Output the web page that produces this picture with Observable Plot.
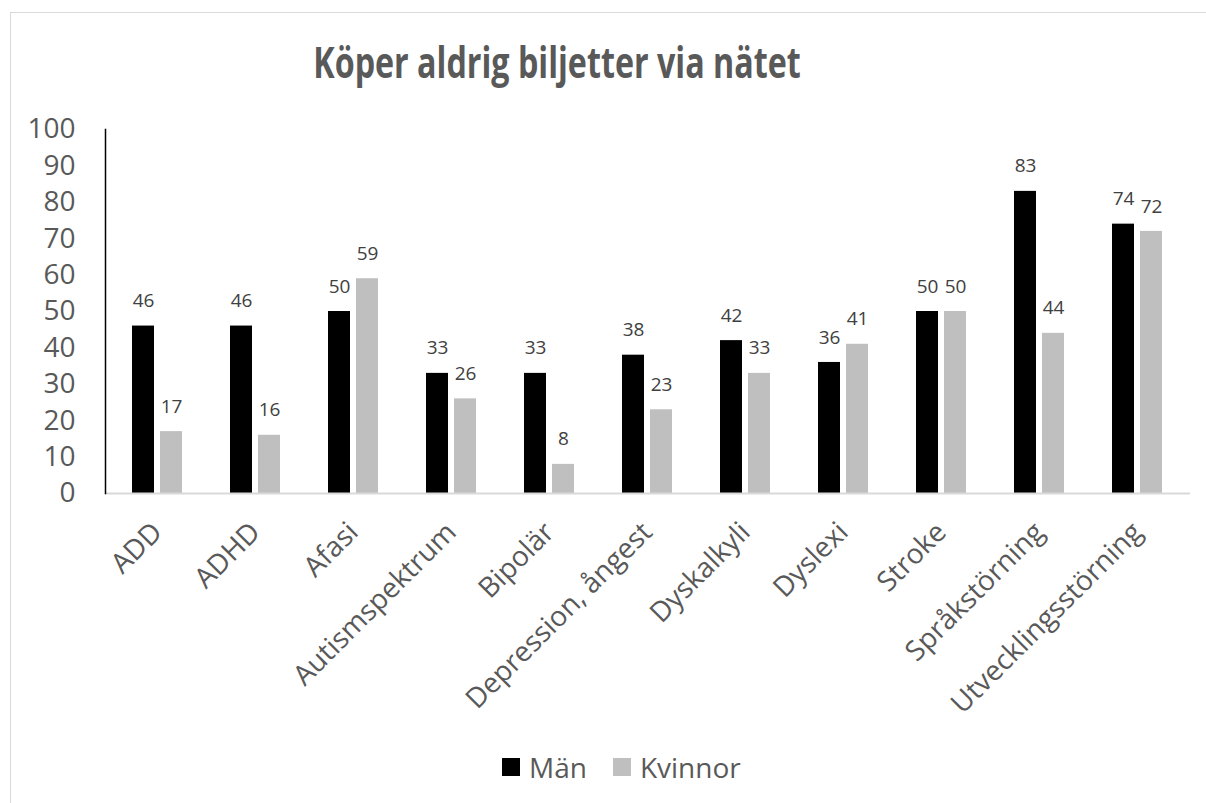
<!DOCTYPE html>
<html>
<head>
<meta charset="utf-8">
<script src="https://cdn.jsdelivr.net/npm/d3@7"></script>
<script src="https://cdn.jsdelivr.net/npm/@observablehq/plot@0.6"></script>
<style>
  html, body { margin: 0; padding: 0; background: #fff; overflow: hidden; }
  body { width: 1206px; height: 803px; position: relative; font-family: "Open Sans", sans-serif; }
  #frame { position: absolute; left: 10px; top: 12px; width: 1196px; height: 0;
           border-top: 1px solid #d9d9d9; }
  #frameLeft { position: absolute; left: 10px; top: 12px; width: 0; height: 791px;
           border-left: 1px solid #d9d9d9; }
  #title { position: absolute; left: 0; top: 37px; width: 1115px; text-align: center;
           font-family: "Open Sans", sans-serif; font-weight: 700; font-size: 43px; color: #595959;
           line-height: 50px; white-space: nowrap; }
  #title span { display: inline-block; transform: scaleX(0.75); transform-origin: center; }
  #chart { position: absolute; left: 0; top: 100px; }
  #legend { position: absolute; left: 502px; top: 748px; display: flex;
            align-items: center; font-size: 28px; color: #595959; line-height: 38px; white-space: nowrap; }
  .item { display: flex; align-items: center; }
  .item + .item { margin-left: 26px; }
  .sw { width: 18px; height: 18px; margin-right: 9px; }
</style>
</head>
<body>
<div id="frame"></div>
<div id="frameLeft"></div>
<div id="title"><span>Köper aldrig biljetter via nätet</span></div>
<div id="chart"></div>
<div id="legend"></div>
<script>
const categories = ["ADD", "ADHD", "Afasi", "Autismspektrum", "Bipolär", "Depression, ångest", "Dyskalkyli", "Dyslexi", "Stroke", "Språkstörning", "Utvecklingsstörning"];
const series = ["Män", "Kvinnor"];
const manValues = [46, 46, 50, 33, 33, 38, 42, 36, 50, 83, 74];
const kvinnorValues = [17, 16, 59, 26, 8, 23, 33, 41, 50, 44, 72];
const seriesColors = ["#000000", "#bfbfbf"];
const yTicks = [0, 10, 20, 30, 40, 50, 60, 70, 80, 90, 100];

const data = categories.flatMap((c, i) => [
  {cat: c, series: "Män", value: manValues[i]},
  {cat: c, series: "Kvinnor", value: kvinnorValues[i]}
]);
const men = data.filter(d => d.series === "Män");
const women = data.filter(d => d.series === "Kvinnor");

const chart = Plot.plot({
  width: 1206,
  height: 620,
  marginLeft: 105,
  marginRight: 16,
  marginTop: 29,
  marginBottom: 227,
  style: {fontFamily: "Open Sans, sans-serif", fontSize: "28px", background: "transparent", overflow: "visible"},
  x: {domain: categories, paddingInner: 0.773, paddingOuter: 0.3865},
  y: {domain: [0, 100]},
  color: {domain: series, range: seriesColors},
  marks: [
    Plot.barY(men, {x: "cat", y: "value", fill: "series", dx: -14}),
    Plot.barY(women, {x: "cat", y: "value", fill: "series", dx: 14}),
    Plot.ruleY([0], {stroke: "#d9d9d9", strokeWidth: 2}),
    Plot.frame({anchor: "left", stroke: "#000", strokeWidth: 1.5}),
    Plot.text(men, {x: "cat", y: "value", text: d => String(d.value), dx: -14, dy: -25, fill: "#404040", fontSize: 19}),
    Plot.text(women, {x: "cat", y: "value", text: d => String(d.value), dx: 14, dy: -25, fill: "#404040", fontSize: 19}),
    Plot.axisY({ticks: yTicks, tickSize: 0, tickPadding: 30, fontSize: 28, color: "#595959", label: null}),
    Plot.axisX({tickSize: 0, tickPadding: 34, tickRotate: -45, fontSize: 28, color: "#595959", label: null})
  ]
});
document.getElementById("chart").appendChild(chart);

const legend = document.getElementById("legend");
series.forEach((s, i) => {
  const item = document.createElement("div");
  item.className = "item";
  const sw = document.createElement("div");
  sw.className = "sw";
  sw.style.background = seriesColors[i];
  const t = document.createElement("span");
  t.textContent = s;
  item.appendChild(sw);
  item.appendChild(t);
  legend.appendChild(item);
});
</script>
</body>
</html>
